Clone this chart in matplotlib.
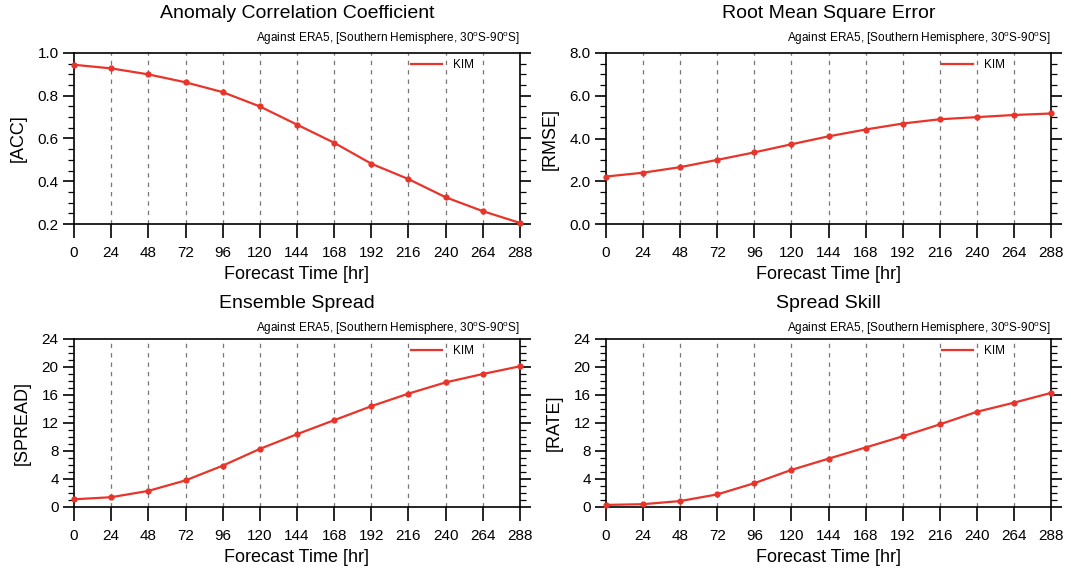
import numpy as np
import matplotlib
matplotlib.use("Agg")
import matplotlib.pyplot as plt
from matplotlib.ticker import MultipleLocator

plt.rcParams['font.family'] = ['Liberation Sans', 'DejaVu Sans']

# forecast lead times
hours = [0, 24, 48, 72, 96, 120, 144, 168, 192, 216, 240, 264, 288]

# values
acc = [0.945, 0.928, 0.900, 0.863, 0.817, 0.750, 0.665, 0.580, 0.482, 0.410, 0.325, 0.260, 0.205]
rmse = [2.22, 2.40, 2.66, 3.00, 3.35, 3.73, 4.10, 4.42, 4.70, 4.90, 5.00, 5.10, 5.17]
spread = [1.1, 1.4, 2.3, 3.8, 5.9, 8.3, 10.4, 12.4, 14.4, 16.2, 17.8, 19.0, 20.1]
rate = [0.3, 0.4, 0.85, 1.8, 3.4, 5.3, 6.9, 8.5, 10.1, 11.8, 13.6, 14.9, 16.3]

titles = ["Anomaly Correlation Coefficient", "Root Mean Square Error",
          "Ensemble Spread", "Spread Skill"]
ylabels = ["[ACC]", "[RMSE]", "[SPREAD]", "[RATE]"]
subtitle = "Against ERA5, [Southern Hemisphere, 30$^{\\mathregular{o}}$S-90$^{\\mathregular{o}}$S]"

W, H = 1071, 571
fig = plt.figure(figsize=(W / 100, H / 100), dpi=100)


def px_axes(x0, y0, x1, y1):
    # pixel box (top-left origin) -> figure fraction
    return fig.add_axes([x0 / W, 1 - y1 / H, (x1 - x0) / W, (y1 - y0) / H])


boxes = [(74, 53, 520, 224), (606, 53, 1051, 224),
         (74, 339, 520, 507), (606, 339, 1051, 507)]
series = [acc, rmse, spread, rate]
ylims = [(0.2, 1.0), (0.0, 8.0), (0, 24), (0, 24)]
ymajor = [0.2, 2.0, 4, 4]
yminor = [0.05, 0.5, 1, 1]
yfmt = ["%.1f", "%.1f", "%d", "%d"]

red = '#e8342a'

for i in range(4):
    ax = px_axes(*boxes[i])
    ax.plot(hours, series[i], color=red, lw=1.6, marker='o', ms=3.5, label='KIM',
            clip_on=False, zorder=3)
    for h in hours[1:-1]:
        ax.axvline(h, color='#777777', lw=0.9, ls=(0, (3.5, 4)), zorder=1)
    ax.set_xlim(0, 288)
    ax.set_ylim(*ylims[i])
    ax.set_xticks(hours)
    ax.yaxis.set_major_locator(MultipleLocator(ymajor[i]))
    ax.yaxis.set_minor_locator(MultipleLocator(yminor[i]))
    ax.yaxis.set_major_formatter(matplotlib.ticker.FormatStrFormatter(yfmt[i]))
    ax.tick_params(axis='x', direction='out', length=10, width=1.2, labelsize=11, pad=6)
    ax.tick_params(axis='y', which='major', direction='out', length=8, width=1.2,
                   labelsize=11, right=True, pad=3)
    ax.tick_params(axis='y', which='minor', direction='out', length=4, width=0.9, right=True)
    for s in ax.spines.values():
        s.set_linewidth(1.2)
    ax.set_xlabel("Forecast Time [hr]", fontsize=13, labelpad=4)
    ax.set_ylabel(ylabels[i], fontsize=13, labelpad=8)
    ax.set_title(titles[i], fontsize=14, pad=25 if i < 2 else 22)
    ax.text(1.0, 1.035 if i < 2 else 1.01, subtitle, transform=ax.transAxes,
            ha='right', va='bottom', fontsize=8.5)
    ax.legend(loc='upper right', bbox_to_anchor=(0.92, 1.025), frameon=False,
              fontsize=8.5, handlelength=2.6, handletextpad=0.9, markerscale=0)

fig.savefig("out.png", dpi=100)
